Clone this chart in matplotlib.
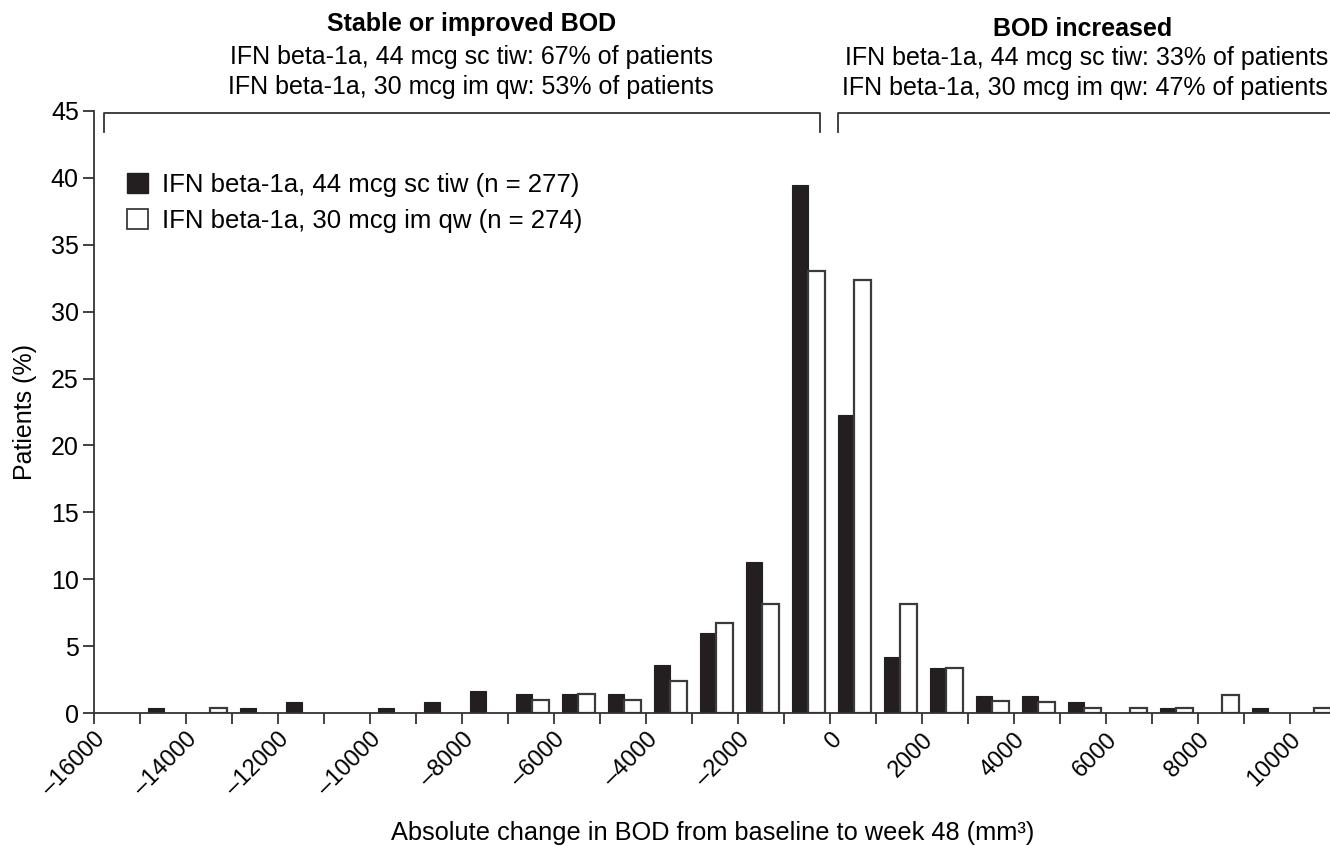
import matplotlib
matplotlib.use("Agg")
import matplotlib.pyplot as plt
from matplotlib.patches import Patch
import numpy as np

plt.rcParams['font.family'] = ['Liberation Sans', 'DejaVu Sans']

# Lower edge of each 1000 mm3 bin of BOD change
bin_starts = list(range(-15000, 11000, 1000))

# Percentage of patients per bin
sc_tiw_44 = [0.4, 0, 0.4, 0.8, 0, 0.4, 0.8, 1.65, 1.42, 1.42, 1.42, 3.62, 5.97,
             11.29, 39.47, 22.27, 4.2, 3.37, 1.32, 1.32, 0.8, 0, 0.4, 0, 0.4, 0]
im_qw_30 = [0, 0.4, 0, 0, 0, 0, 0, 0, 1.0, 1.42, 0.95, 2.37, 6.77,
            8.19, 33.02, 32.34, 8.19, 3.37, 0.92, 0.8, 0.37, 0.4, 0.37, 1.35, 0, 0.37]

series_labels = ["IFN beta-1a, 44 mcg sc tiw (n = 277)",
                 "IFN beta-1a, 30 mcg im qw (n = 274)"]

left_title = "Stable or improved BOD"
left_lines = ["IFN beta-1a, 44 mcg sc tiw: 67% of patients",
              "IFN beta-1a, 30 mcg im qw: 53% of patients"]
right_title = "BOD increased"
right_lines = ["IFN beta-1a, 44 mcg sc tiw: 33% of patients",
               "IFN beta-1a, 30 mcg im qw: 47% of patients"]

x_ticks = list(range(-16000, 11000, 1000))
x_labels = list(range(-16000, 11000, 2000))
y_ticks = list(range(0, 50, 5))

dark = "#231f20"
edge = "#3a3a3a"
fs = 18

fig = plt.figure(figsize=(13.30, 8.46), dpi=100)
ax = fig.add_axes([0.0707, 0.157, 0.9293, 0.712])

starts = np.array(bin_starts)
black = np.array(sc_tiw_44)
white = np.array(im_qw_30)
width = 365
# empty bins are left out so no outline is drawn on the baseline
nb = black > 0
nw = white > 0
ax.bar(starts[nb] + 165, black[nb], width=width, align='edge', color=dark,
       edgecolor=dark, linewidth=0.8, zorder=2)
ax.bar(starts[nw] + 530, white[nw], width=width, align='edge', color='white',
       edgecolor=edge, linewidth=1.6, zorder=2)

ax.set_xlim(-16000, 10870)
ax.set_ylim(0, 45)

ax.set_xticks(x_ticks)
ax.set_xticklabels([str(v).replace('-', '\u2013') if v in x_labels else ''
                    for v in x_ticks], rotation=45, ha='right',
                   rotation_mode='anchor', fontsize=17)
ax.set_yticks(y_ticks)
ax.set_yticklabels([str(v) for v in y_ticks], fontsize=fs)
ax.tick_params(axis='both', direction='out', length=8, width=1.3, color='#333333')
ax.tick_params(axis='x', pad=3)
ax.tick_params(axis='y', pad=3)

for side in ('top', 'right'):
    ax.spines[side].set_visible(False)
for side in ('left', 'bottom'):
    ax.spines[side].set_linewidth(1.3)
    ax.spines[side].set_color('#333333')

ax.set_ylabel("Patients (%)", fontsize=fs, labelpad=10)
fig.text(0.5355, 1 - 833 / 846, "Absolute change in BOD from baseline to week 48 (mm\u00b3)",
         ha='center', va='center', fontsize=18.3)

# Brackets grouping decreased/increased BOD
br_y, br_end = 44.85, 43.4
ax.plot([-15783, -15783, -217, -217], [br_end, br_y, br_y, br_end],
        color='#333333', lw=1.3, clip_on=False)
ax.plot([174, 174, 11200], [br_end, br_y, br_y],
        color='#333333', lw=1.3, clip_on=False)

lx = -7800
ax.text(lx, 51.5, left_title, ha='center', va='center', fontsize=fs,
        fontweight='bold')
ax.text(lx, 49.05, left_lines[0], ha='center', va='center', fontsize=fs)
ax.text(lx, 46.8, left_lines[1], ha='center', va='center', fontsize=fs)
ax.text(5500, 51.15, right_title, ha='center', va='center', fontsize=fs,
        fontweight='bold')
ax.text(10830, 48.95, right_lines[0], ha='right', va='center', fontsize=fs)
ax.text(10830, 46.7, right_lines[1], ha='right', va='center', fontsize=fs)

handles = [Patch(facecolor=dark, edgecolor=dark),
           Patch(facecolor='white', edgecolor=edge, linewidth=1.3)]
ax.legend(handles, series_labels, loc='upper left', bbox_to_anchor=(0.008, 0.935),
          frameon=False, fontsize=18.5, handlelength=0.8, handleheight=0.8,
          handletextpad=0.55, labelspacing=0.45)

fig.savefig("out.png", dpi=100)
